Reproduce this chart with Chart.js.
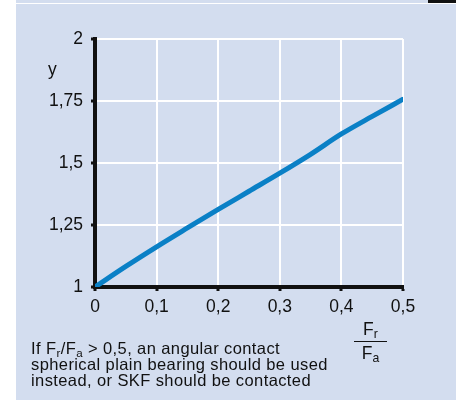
<!DOCTYPE html>
<html>
<head>
<meta charset="utf-8">
<script src="https://cdn.jsdelivr.net/npm/chart.js@4/dist/chart.umd.min.js"></script>
<style>
  html, body { margin: 0; padding: 0; background: #fff; }
  body { width: 456px; height: 402px; position: relative; overflow: hidden;
         font-family: 'Liberation Sans', Arial, sans-serif; color: #111; }
  #panel { position: absolute; left: 16px; top: 0; width: 440px; height: 400px; background: #d3ddef; }
  #topline { position: absolute; left: 16px; top: 3px; width: 440px; height: 1px; background: #fff; }
  #corner { position: absolute; left: 428px; top: 0; width: 28px; height: 3px; background: #111; }
  #chart { position: absolute; left: 0; top: 0; }
  .lbl { position: absolute; font-size: 17.5px; line-height: 1; white-space: nowrap; }
  .frac { position: absolute; left: 354px; top: 321px; width: 33px; text-align: center; font-size: 17.5px; line-height: 1; }
  .frac .num { padding-bottom: 2px; border-bottom: 1.5px solid #111; }
  .frac .den { padding-top: 3px; }
  sub { font-size: 70%; vertical-align: -3px; line-height: 0; }
  #note { position: absolute; left: 31px; top: 340px; font-size: 16.5px; line-height: 16px;
          letter-spacing: 0.4px; white-space: nowrap; }
</style>
</head>
<body>
<div id="panel"></div>
<div id="topline"></div>
<div id="corner"></div>
<canvas id="chart" width="456" height="402"></canvas>
<div class="lbl" style="left:48px; top:61px;">y</div>
<div class="frac"><div class="num">F<sub>r</sub></div><div class="den">F<sub>a</sub></div></div>
<div id="note">If F<sub>r</sub>/F<sub>a</sub> &gt; 0,5, an angular contact<br>spherical plain bearing should be used<br>instead, or SKF should be contacted</div>
<script>
const ratio = [0, 0.05, 0.1, 0.15, 0.2, 0.25, 0.3, 0.35, 0.4, 0.45, 0.5];
const yFactor = [1, 1.083, 1.162, 1.238, 1.313, 1.386, 1.459, 1.535, 1.617, 1.688, 1.757];
const xTicks = [0, 0.1, 0.2, 0.3, 0.4, 0.5];
const yTicks = [1, 1.25, 1.5, 1.75, 2];

const comma = v => String(Math.round(v * 100) / 100).replace('.', ',');
const tickFont = { family: "'Liberation Sans', Arial, sans-serif", size: 17.5 };

new Chart(document.getElementById('chart').getContext('2d'), {
    type: 'line',
    data: {
        datasets: [{
            data: ratio.map((r, i) => ({ x: r, y: yFactor[i] })),
            borderColor: '#0a80c6',
            borderWidth: 5,
            borderCapStyle: 'round',
            pointRadius: 0,
            cubicInterpolationMode: 'monotone',
            fill: false
        }]
    },
    options: {
        responsive: false,
        animation: false,
        events: [],
        layout: { padding: { left: 0, top: 39, right: 53, bottom: 85 } },
        plugins: { legend: { display: false }, tooltip: { enabled: false } },
        scales: {
            x: {
                type: 'linear', min: 0, max: 0.5,
                afterBuildTicks: s => { s.ticks = xTicks.map(v => ({ value: v })); },
                afterFit: s => { s.height = 30; },
                grid: {
                    color: c => c.tick && c.tick.value === 0 ? 'rgba(0,0,0,0)' : '#ffffff',
                    lineWidth: 2, tickColor: '#111', tickWidth: 3, tickLength: 4
                },
                border: { color: '#111', width: 4 },
                ticks: { color: '#111', font: tickFont, padding: 6, maxRotation: 0, callback: comma }
            },
            y: {
                type: 'linear', min: 1, max: 2,
                afterBuildTicks: s => { s.ticks = yTicks.map(v => ({ value: v })); },
                afterFit: s => { s.width = 95; },
                grid: {
                    color: c => c.tick && c.tick.value === 1 ? 'rgba(0,0,0,0)' : '#ffffff',
                    lineWidth: 2, tickColor: '#111', tickWidth: 3, tickLength: 4
                },
                border: { color: '#111', width: 4 },
                ticks: { color: '#111', font: tickFont, padding: 8, callback: comma }
            }
        }
    }
});
</script>
</body>
</html>
